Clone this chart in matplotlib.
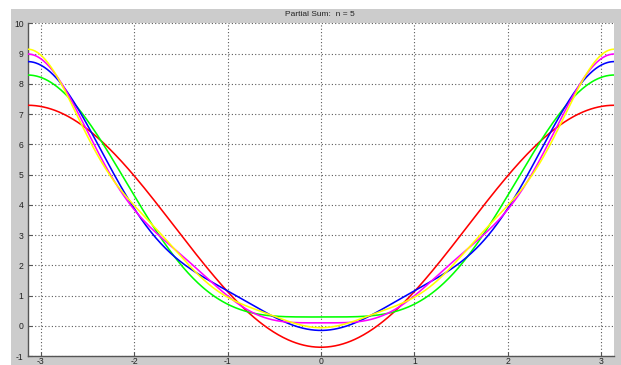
import numpy as np
import matplotlib
matplotlib.use("Agg")
import matplotlib.pyplot as plt
from matplotlib.patches import Rectangle

# cosine series terms: a0 + sum a_k cos(k x)
const_term = 3.29
cos_coeffs = [-4.0, 1.0, -0.444, 0.25, -0.16]
line_colors = ["#ff0000", "#00ff00", "#0000ff", "#ff00ff", "#ffff00"]
x_ticks = [-3, -2, -1, 0, 1, 2, 3]
y_ticks = list(range(-1, 11))

plt.rcParams["font.family"] = ["Liberation Sans", "DejaVu Sans"]
plt.rcParams["axes.unicode_minus"] = False

fig = plt.figure(figsize=(6.21, 3.65), dpi=100, facecolor="#cccccc")
# white strips along top and left edge
fig.patches.append(Rectangle((0, 1 - 9 / 365), 1, 9 / 365, transform=fig.transFigure,
                             facecolor="white", edgecolor="none", zorder=0))
fig.patches.append(Rectangle((0, 0), 11 / 621, 1, transform=fig.transFigure,
                             facecolor="white", edgecolor="none", zorder=0))

ax = fig.add_axes([27.7 / 621, 1 - 356 / 365, 586.5 / 621, 332.7 / 365])
ax.set_facecolor("white")

x = np.linspace(-np.pi, np.pi, 600)
partial = np.full_like(x, const_term)
for k, (a, c) in enumerate(zip(cos_coeffs, line_colors), start=1):
    partial = partial + a * np.cos(k * x)
    ax.plot(x, partial, color=c, lw=1.15, zorder=3 + k)

ax.set_xlim(-np.pi, np.pi)
ax.set_ylim(-1, 10)
ax.set_xticks(x_ticks)
ax.set_yticks(y_ticks)
ax.grid(True, color="#5a5a5a", linestyle=(0, (1, 2)), linewidth=0.8)
for side in ("top", "right"):
    ax.spines[side].set_visible(False)
for side in ("left", "bottom"):
    ax.spines[side].set_color("#555555")
    ax.spines[side].set_linewidth(1.0)
ax.tick_params(direction="in", length=3, width=0.8, color="#555555",
               labelsize=6.2, labelcolor="#222222")
ax.tick_params(axis="x", pad=1)
ax.tick_params(axis="y", pad=3)

fig.text(320 / 621, 1 - 15 / 365, "Partial Sum:  n = 5", ha="center", va="center",
         fontsize=6, color="#222222")

fig.savefig("out.png", dpi=100, facecolor=fig.get_facecolor())
